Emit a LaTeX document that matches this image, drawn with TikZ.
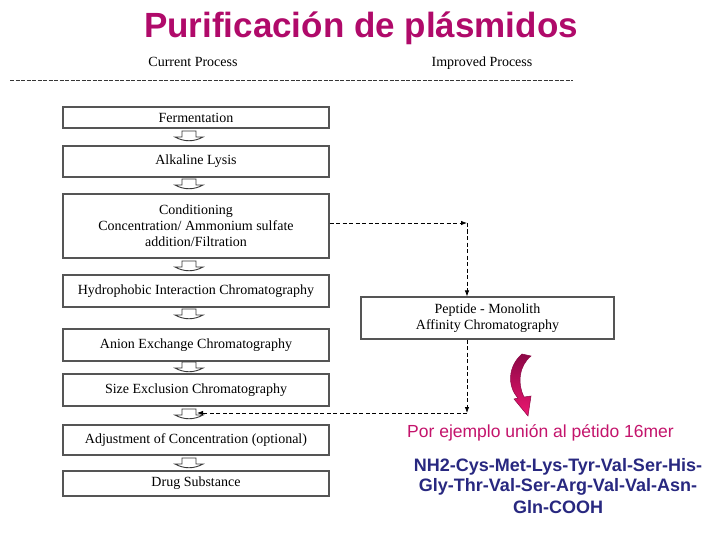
\documentclass[tikz,border=0pt]{standalone}
\usepackage{fontspec}
\setmainfont{Liberation Serif}
\newfontfamily\arialfont{Liberation Sans}
\usetikzlibrary{arrows.meta}
\definecolor{titlemag}{RGB}{176,10,106}
\definecolor{submag}{RGB}{196,20,108}
\definecolor{navy}{RGB}{40,40,128}
\definecolor{boxgray}{RGB}{85,85,85}
\definecolor{blkgray}{RGB}{55,55,55}
\definecolor{arrdark}{RGB}{140,8,70}
\definecolor{arrlight}{RGB}{236,22,112}
\newcommand\blkarrow[3]{%
  \draw[blkarr] (#2-7,#3) -- (#2-7,#3+6) -- (#2-14,#3+6)
    .. controls (#2-5,#3+11) and (#2+5,#3+11) .. (#2+14,#3+6)
    -- (#2+7,#3+6) -- (#2+7,#3) -- cycle;
  \coordinate (#1) at (#2+8,#3+4);}
\begin{document}
\begin{tikzpicture}[x=1pt,y=-1pt,
  box/.style={draw=boxgray, line width=1.1pt, fill=white, inner sep=0pt,
    minimum width=266pt, align=center, font=\fontsize{14}{16}\selectfont},
  blkarr/.style={draw=blkgray, line width=0.9pt, fill=white},
  dashconn/.style={draw=black, line width=0.8pt, dash pattern=on 4pt off 2.5pt,
    -{Latex[length=6pt,width=4.5pt]}},
  hdr/.style={anchor=base, font=\fontsize{14}{16}\selectfont, inner sep=0pt},
  blue/.style={anchor=base, inner sep=0pt, text=navy,
    font=\arialfont\bfseries\fontsize{18}{21}\selectfont}]
\useasboundingbox (0,0) rectangle (720,540);
\fill[white] (0,0) rectangle (720,540);

% title and headers
\node[anchor=base, inner sep=0pt, text=titlemag,
  font=\arialfont\bfseries\fontsize{35}{40}\selectfont] (title) at (361,38) {Purificación de plásmidos};
\node[hdr] (cur) at (193,67) {Current Process};
\node[hdr] (imp) at (482,67) {Improved Process};
\coordinate (dl) at (10,80);
\coordinate (dr) at (573,80);
\draw[blkgray, line width=0.8pt, dash pattern=on 4pt off 1.5pt] (dl) -- (dr);

% left column
\node[box, minimum height=21pt] (ferm) at (196,117.5) {Fermentation};
\node[box, minimum height=31pt] (alk) at (196,161.5) {Alkaline Lysis};
\node[box, minimum height=64pt] (cond) at (196,226) {Conditioning\\Concentration/ Ammonium sulfate\\addition/Filtration};
\node[box, minimum height=32pt] (hic) at (196,291) {Hydrophobic Interaction Chromatography};
\node[box, minimum height=32pt] (aex) at (196,345) {Anion Exchange Chromatography};
\node[box, minimum height=32pt] (sec) at (196,390) {Size Exclusion Chromatography};
\node[box, minimum height=30pt] (adj) at (196,440) {Adjustment of Concentration (optional)};
\node[box, minimum height=25pt] (drug) at (196,483.5) {Drug Substance};

% small block arrows
\blkarrow{a1}{189}{131}
\blkarrow{a2}{189}{179}
\blkarrow{a3}{189}{261}
\blkarrow{a4}{189}{309}
\blkarrow{a5}{189}{362}
\blkarrow{a6}{189}{409}
\blkarrow{a7}{189}{458}

% right column
\node[box, minimum width=253pt, minimum height=42pt] (pep) at (487.5,318) {Peptide - Monolith\\Affinity Chromatography};
\coordinate (c1) at (467,223);
\coordinate (c2) at (467,413);
\draw[dashconn] (cond.east |- c1) -- (c1);
\draw[dashconn] (c1) -- (c1 |- pep.north);
\draw[dashconn] (c1 |- pep.south) -- (c2);
\draw[dashconn] (c2) -- (a6);

% curved arrow
\shadedraw[top color=arrdark, bottom color=arrlight, draw=arrdark, line width=0.5pt]
  (522,354) -- (531,356)
  .. controls (519,366) and (517,383) .. (524,397)
  -- (531,396) -- (528,416) -- (514,399) -- (518,398)
  .. controls (507,386) and (508,366) .. (522,354) -- cycle;

% texts
\node[anchor=base, inner sep=0pt, text=submag,
  font=\arialfont\fontsize{17.5}{21}\selectfont] (ej) at (540.5,437) {Por ejemplo unión al pétido 16mer};
\node[blue] (s1) at (558,471) {NH2-Cys-Met-Lys-Tyr-Val-Ser-His-};
\node[blue] (s2) at (558,491) {Gly-Thr-Val-Ser-Arg-Val-Val-Asn-};
\node[blue] (s3) at (558,513) {Gln-COOH};
\end{tikzpicture}
\end{document}
